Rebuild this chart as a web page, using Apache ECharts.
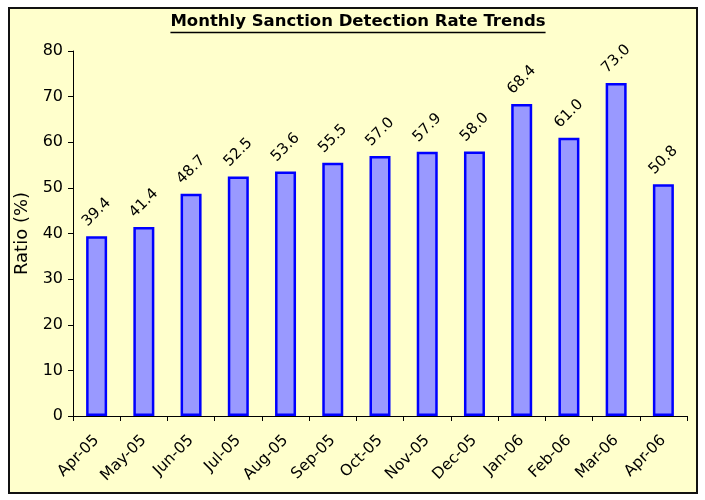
<!DOCTYPE html>
<html><head><meta charset="utf-8">
<script src="https://cdn.jsdelivr.net/npm/echarts@6/dist/echarts.min.js"></script>
<style>html,body{margin:0;padding:0;background:#fff}#c{width:705px;height:500px}</style>
</head><body><div id="c"></div>
<script>
const categories = ['Apr-05','May-05','Jun-05','Jul-05','Aug-05','Sep-05','Oct-05','Nov-05','Dec-05','Jan-06','Feb-06','Mar-06','Apr-06'];
const ratioValues = [39.4, 41.4, 48.7, 52.5, 53.6, 55.5, 57.0, 57.9, 58.0, 68.4, 61.0, 73.0, 50.8];
const titleText = 'Monthly Sanction Detection Rate Trends';
const yAxisName = 'Ratio (%)';
const FONT = 'DejaVu Sans';

const titleFont = 'bold 16.5px "' + FONT + '"';
const cv = document.createElement('canvas').getContext('2d');
cv.font = titleFont;
const tw = cv.measureText(titleText).width;
const tcx = 358;

const chart = echarts.init(document.getElementById('c'), null, {renderer: 'canvas'});
chart.setOption({
  backgroundColor: '#ffffff',
  animation: false,
  graphic: [
    {type: 'rect', z: -10, shape: {x: 9, y: 8, width: 688, height: 485},
     style: {fill: '#FFFFCC', stroke: '#111', lineWidth: 2}},
    {type: 'text', z: 10, x: tcx, y: 22, style: {text: titleText, font: titleFont, fill: '#000', align: 'center', verticalAlign: 'middle'}},
    {type: 'line', z: 10, shape: {x1: tcx - tw / 2, y1: 32.5, x2: tcx + tw / 2, y2: 32.5}, style: {stroke: '#000', lineWidth: 1.7}}
  ],
  grid: {left: 73, right: 18, top: 51, bottom: 84},
  xAxis: {
    type: 'category', data: categories,
    axisLine: {lineStyle: {color: '#000', width: 1}},
    axisTick: {show: true, alignWithLabel: false, length: 5, lineStyle: {color: '#000'}},
    axisLabel: {rotate: 45, fontFamily: FONT, fontSize: 15.5, color: '#000', margin: 22, interval: 0}
  },
  yAxis: {
    type: 'value', min: 0, max: 80, interval: 10,
    name: yAxisName, nameLocation: 'middle', nameGap: 37, nameRotate: 90,
    nameTextStyle: {fontFamily: FONT, fontSize: 18, color: '#000'},
    axisLine: {show: true, lineStyle: {color: '#000', width: 1}},
    axisTick: {show: true, length: 5, lineStyle: {color: '#000'}},
    splitLine: {show: false},
    axisLabel: {fontFamily: FONT, fontSize: 16, color: '#000', margin: 10}
  },
  series: [{
    type: 'bar', data: ratioValues, barWidth: 21,
    itemStyle: {color: '#9999FF', borderColor: '#0000FF', borderWidth: 2.5},
    label: {show: true, position: 'top', distance: 24, rotate: 45, align: 'center', verticalAlign: 'middle',
      fontFamily: FONT, fontSize: 15, color: '#000',
      formatter: p => p.value.toFixed(1)}
  }]
});
</script></body></html>
